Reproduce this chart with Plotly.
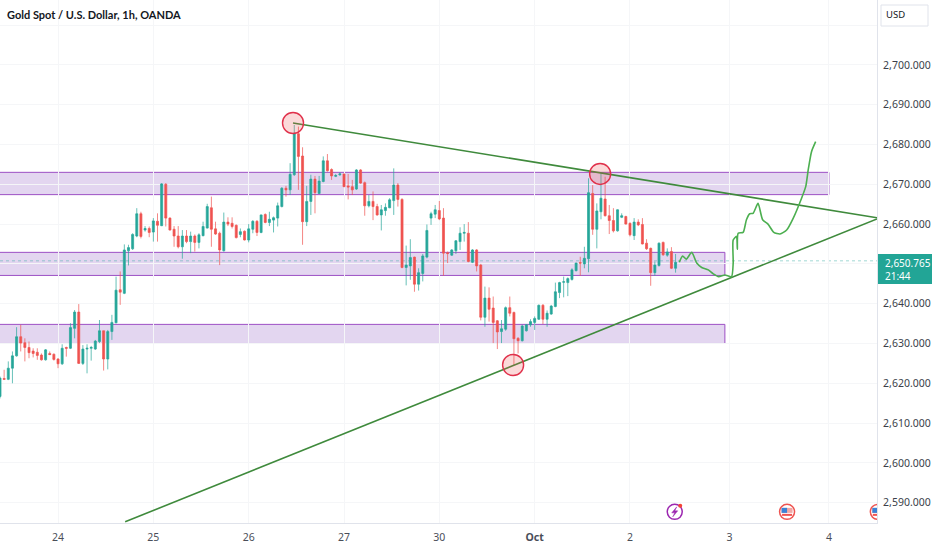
import plotly.graph_objects as go

# OHLC, one value per hourly candle
opens = [2616.7,2621.2,2621.0,2623.8,2626.9,2631.7,2630.2,2629.0,2628.1,2627.8,2627.1,2625.9,2627.5,2627.3,2626.1,2624.9,
         2629.0,2628.8,2633.8,2637.9,2625.0,2628.6,2628.8,2628.6,2630.5,2633.2,2626.1,2633.0,2635.2,2643.5,2642.6,2653.3,
         2653.8,2657.0,2662.6,2658.5,2658.9,2658.0,2660.7,2659.6,2670.0,2661.5,2658.7,2657.0,2654.3,2657.0,2655.6,2657.0,
         2655.4,2657.1,2659.0,2664.1,2658.8,2657.7,2653.3,2660.5,2660.2,2659.7,2657.4,2658.2,2656.0,2658.7,2660.7,2657.9,
         2662.4,2660.4,2661.0,2661.5,2664.4,2669.0,2668.6,2672.4,2682.7,2677.1,2660.6,2665.7,2671.3,2667.7,2670.7,2675.9,
         2673.7,2672.0,2672.4,2672.6,2669.6,2669.4,2668.8,2673.6,2670.4,2664.6,2665.7,2664.4,2662.3,2663.4,2664.1,2665.9,
         2669.8,2666.2,2649.1,2649.5,2651.7,2644.9,2647.6,2651.7,2661.5,2662.5,2663.4,2661.5,2652.8,2652.2,2653.3,2655.6,
         2657.7,2657.7,2650.4,2653.5,2649.7,2636.6,2641.4,2638.9,2635.7,2633.0,2633.6,2639.0,2637.8,2631.3,2630.7,2633.2,
         2634.7,2635.3,2636.1,2639.6,2636.1,2637.4,2639.3,2642.8,2645.4,2645.3,2646.1,2648.3,2650.3,2650.0,2651.3,2667.7,
         2658.7,2663.1,2666.3,2662.1,2660.9,2658.3,2661.7,2661.9,2660.2,2657.1,2660.5,2659.9,2655.2,2653.9,2647.8,2649.6,
         2655.4,2652.2,2653.1,2648.9]
highs = [2621.7,2623.4,2625.5,2628.0,2634.1,2634.7,2631.3,2630.5,2628.8,2628.8,2627.5,2628.6,2628.0,2627.5,2626.3,2629.8,
         2629.2,2635.1,2638.4,2639.9,2629.6,2629.8,2629.4,2630.9,2635.9,2633.2,2633.4,2637.2,2646.8,2648.1,2654.9,2654.8,
         2657.7,2664.0,2663.1,2659.5,2659.4,2661.5,2662.7,2670.3,2670.3,2661.7,2659.5,2659.5,2658.5,2658.5,2658.1,2657.4,
         2657.7,2660.6,2665.1,2666.9,2660.6,2658.1,2662.9,2661.7,2661.7,2659.9,2658.9,2658.4,2660.0,2661.0,2661.0,2662.4,
         2662.7,2663.1,2661.9,2665.4,2669.3,2669.6,2675.3,2684.9,2684.5,2679.3,2669.6,2672.4,2672.1,2672.1,2677.0,2677.6,
         2674.0,2672.6,2673.0,2672.6,2672.6,2671.1,2673.8,2673.8,2670.7,2667.3,2668.2,2665.1,2664.8,2665.2,2666.5,2674.0,
         2670.3,2666.5,2654.6,2656.2,2651.8,2648.9,2652.5,2659.9,2663.1,2664.8,2665.8,2664.0,2653.1,2653.7,2656.0,2659.2,
         2660.0,2660.5,2653.7,2653.7,2650.0,2644.3,2644.1,2641.8,2635.9,2635.9,2639.3,2641.8,2638.0,2631.6,2634.7,2634.9,
         2636.1,2636.8,2639.8,2639.9,2638.3,2639.7,2645.3,2645.5,2646.8,2646.6,2648.9,2650.3,2651.8,2654.3,2671.5,2669.8,
         2665.2,2672.8,2671.9,2664.8,2664.0,2663.7,2662.7,2662.1,2660.4,2661.5,2661.2,2661.5,2656.2,2654.1,2650.6,2655.4,
         2655.6,2653.9,2654.2,2652.5]
lows = [2616.2,2621.0,2620.8,2620.0,2626.7,2628.0,2625.5,2626.3,2626.5,2625.9,2625.7,2625.7,2627.1,2625.7,2623.8,2624.6,
        2626.7,2628.6,2631.3,2624.9,2624.6,2622.5,2625.7,2628.4,2630.1,2623.2,2623.5,2630.9,2635.1,2639.7,2642.4,2649.6,
        2653.5,2656.7,2656.4,2658.1,2656.7,2655.6,2655.6,2659.5,2659.4,2658.4,2654.3,2653.9,2651.3,2655.2,2652.7,2653.1,
        2653.9,2656.9,2658.9,2654.3,2657.3,2649.7,2653.1,2659.5,2658.9,2656.4,2656.7,2655.9,2655.4,2657.7,2657.0,2657.7,
        2660.2,2659.5,2657.9,2659.4,2664.2,2666.9,2667.3,2672.1,2668.6,2654.8,2659.5,2662.3,2662.7,2667.6,2670.5,2673.2,
        2671.1,2671.8,2672.1,2669.3,2666.2,2667.3,2668.6,2670.1,2662.1,2664.2,2661.0,2662.1,2658.4,2662.1,2664.0,2662.3,
        2664.4,2648.9,2644.6,2646.0,2643.0,2643.3,2645.6,2651.4,2659.8,2661.5,2661.0,2647.0,2650.2,2652.0,2652.5,2653.5,
        2655.6,2650.4,2650.2,2648.1,2635.8,2634.2,2635.5,2630.1,2628.6,2630.1,2633.2,2636.8,2624.6,2627.5,2630.5,2633.0,
        2634.2,2633.4,2635.9,2634.9,2634.2,2637.2,2639.1,2641.4,2641.6,2641.9,2645.8,2648.1,2647.0,2648.9,2647.9,2657.3,
        2653.9,2661.2,2661.9,2657.5,2657.9,2658.1,2661.5,2659.9,2656.9,2656.0,2659.5,2654.9,2653.5,2644.5,2647.0,2649.3,
        2652.0,2651.8,2648.7,2647.8]
closes = [2621.3,2621.0,2623.8,2626.9,2631.7,2630.1,2629.0,2627.7,2627.5,2627.0,2625.9,2628.4,2627.2,2626.0,2624.9,2628.8,
          2628.8,2634.0,2637.9,2625.0,2628.6,2628.8,2629.0,2630.6,2633.2,2626.1,2633.0,2635.3,2643.4,2642.9,2653.5,2654.1,
          2657.4,2662.6,2656.9,2658.9,2657.9,2660.8,2659.7,2670.1,2661.5,2658.5,2657.0,2654.3,2657.0,2655.6,2657.0,2655.4,
          2657.3,2659.4,2664.4,2658.7,2657.5,2653.5,2660.5,2660.0,2659.4,2656.6,2658.1,2656.0,2658.8,2660.7,2657.9,2662.3,
          2660.4,2661.2,2661.6,2664.6,2669.0,2668.6,2672.5,2682.8,2677.0,2660.6,2665.7,2671.3,2667.9,2670.8,2675.9,2673.4,
          2672.1,2672.2,2672.6,2669.4,2669.3,2668.6,2673.6,2670.3,2664.6,2665.7,2664.4,2662.3,2663.6,2664.2,2666.1,2669.8,
          2666.2,2649.1,2649.7,2651.6,2644.9,2647.8,2652.0,2658.4,2662.6,2663.6,2661.3,2652.7,2652.6,2653.5,2655.8,2657.7,
          2657.9,2650.6,2653.5,2649.5,2636.6,2641.4,2638.6,2635.3,2632.9,2633.7,2639.0,2637.6,2631.2,2630.7,2634.4,2634.7,
          2635.5,2636.3,2639.6,2636.1,2637.6,2639.4,2643.0,2645.3,2645.5,2646.3,2648.5,2650.2,2650.2,2651.4,2667.9,2658.7,
          2663.3,2666.5,2662.1,2660.9,2658.3,2663.6,2662.1,2660.0,2657.3,2660.5,2659.8,2655.0,2653.8,2647.8,2649.7,2655.2,
          2652.3,2653.0,2648.9,2650.4]
candle_index = list(range(len(opens)))

last_price = 2650.765

# axes, the 2,650 label sits under the last price tag so it stays empty
day_ticks = [14, 37, 60, 83, 106, 129, 152, 176, 200]
day_labels = ['24', '25', '26', '27', '30', '<b>Oct</b>', '2', '3', '4']
price_ticks = [2590, 2600, 2610, 2620, 2630, 2640, 2650, 2660, 2670, 2680, 2690, 2700, 2710]
price_labels = ['2,590.000', '2,600.000', '2,610.000', '2,620.000', '2,630.000', '2,640.000', '',
                '2,660.000', '2,670.000', '2,680.000', '2,690.000', '2,700.000', '']

# drawings on the chart
zone_tops = [2673.0, 2652.9, 2634.8]
zone_bottoms = [2667.4, 2647.1, 2630.0]
zone_ends = [200, 174.9, 174.9]

upper_x = [70.7, 211.6]
upper_y = [2685.4, 2661.6]
lower_x = [30.2, 211.6]
lower_y = [2585.2, 2661.3]

circle_x = [70.7, 144.8, 123.8]
circle_y = [2685.4, 2672.6, 2624.6]

path_x = [163.9, 164.7, 165.6, 166.9, 168.1, 169.3, 170.9, 172.1, 173.4, 174.9, 176.5, 176.9, 176.9, 177.7, 177.9, 178.1,
          179.3, 180.1, 180.9, 181.7, 182.9, 184.0, 185.3, 186.7, 188.2, 189.8, 191.4, 193.4, 194.4, 195.0, 195.8, 196.8]
path_y = [2650.4, 2652.0, 2651.2, 2652.9, 2650.2, 2649.1, 2648.5, 2647.5, 2646.8, 2647.2, 2646.8, 2650.2, 2656.0, 2656.9,
          2653.7, 2657.7, 2657.9, 2661.1, 2662.6, 2662.7, 2665.2, 2661.1, 2660.0, 2657.9, 2657.5, 2658.5, 2661.5, 2666.5,
          2669.4, 2673.6, 2678.2, 2680.7]

bolt_x = [162.8]
flag_x = [189.9, 211.8]
event_price = 2587.7

TEAL = '#26a69a'
RED = '#ef5350'
PURPLE = '#9c4fc4'
GRID = '#f5f6f8'
AXIS = '#e0e3eb'

fig = go.Figure()

fig.add_trace(go.Candlestick(
    x=candle_index, open=opens, high=highs, low=lows, close=closes,
    increasing=dict(line=dict(color=TEAL, width=0.7), fillcolor=TEAL),
    decreasing=dict(line=dict(color=RED, width=0.7), fillcolor=RED),
    whiskerwidth=0, hoverinfo='skip', showlegend=False))

# trend lines and the hand drawn path
fig.add_trace(go.Scatter(x=upper_x, y=upper_y, mode='lines', line=dict(color='#3f8a3c', width=1.6),
                         hoverinfo='skip', showlegend=False))
fig.add_trace(go.Scatter(x=lower_x, y=lower_y, mode='lines', line=dict(color='#3f8a3c', width=1.6),
                         hoverinfo='skip', showlegend=False))
fig.add_trace(go.Scatter(x=path_x, y=path_y, mode='lines',
                         line=dict(color='#4caf50', width=1.6, shape='spline', smoothing=0.6),
                         hoverinfo='skip', showlegend=False))
fig.add_trace(go.Scatter(x=circle_x, y=circle_y, mode='markers',
                         marker=dict(size=21, color='rgba(239,83,80,0.22)', line=dict(color='#e0314b', width=1.4)),
                         hoverinfo='skip', showlegend=False))

# event icons at the bottom
fig.add_trace(go.Scatter(x=bolt_x, y=[event_price], mode='markers',
                         marker=dict(size=15, color='white', line=dict(color='#9c27b0', width=1.5)),
                         hoverinfo='skip', showlegend=False))
fig.add_trace(go.Scatter(x=flag_x, y=[event_price] * len(flag_x), mode='markers',
                         marker=dict(size=15, color='white', line=dict(color='#ef5350', width=1.5)),
                         hoverinfo='skip', showlegend=False))

shapes = []
for top, bottom, end in zip(zone_tops, zone_bottoms, zone_ends):
    shapes.append(dict(type='rect', x0=-2, x1=end, y0=bottom, y1=top, layer='below',
                       fillcolor='rgba(150,105,200,0.27)', line=dict(color=PURPLE, width=1)))
shapes.append(dict(type='line', x0=0, x1=211.6, y0=last_price, y1=last_price, layer='below',
                   line=dict(color='rgba(38,166,154,0.55)', width=0.8, dash='dot')))

# lightning bolt and flags are small pixel sized paths anchored on the event points
for x in bolt_x:
    shapes.append(dict(type='path', xref='x', yref='y', xsizemode='pixel', ysizemode='pixel',
                       xanchor=x, yanchor=event_price,
                       path='M 2 5 L -3 -1 L 0 -1 L -2 -5 L 3 1 L 0 1 Z',
                       fillcolor='#9c27b0', line=dict(color='#9c27b0', width=0.5)))
    shapes.append(dict(type='circle', xref='x', yref='y', xsizemode='pixel', ysizemode='pixel',
                       xanchor=x, yanchor=event_price, x0=3.5, x1=7.5, y0=4, y1=8,
                       fillcolor='#f44336', line=dict(width=0)))
for x in flag_x:
    shapes.append(dict(type='rect', xref='x', yref='y', xsizemode='pixel', ysizemode='pixel',
                       xanchor=x, yanchor=event_price, x0=-5.5, x1=5.5, y0=-1, y1=4,
                       fillcolor='#f1a7a5', line=dict(width=0)))
    shapes.append(dict(type='rect', xref='x', yref='y', xsizemode='pixel', ysizemode='pixel',
                       xanchor=x, yanchor=event_price, x0=-5.5, x1=0, y0=-1, y1=4,
                       fillcolor='#3b82d6', line=dict(width=0)))
    shapes.append(dict(type='rect', xref='x', yref='y', xsizemode='pixel', ysizemode='pixel',
                       xanchor=x, yanchor=event_price, x0=-5, x1=5, y0=-4, y1=-2,
                       fillcolor='#ef5350', line=dict(width=0)))

# USD box on the price scale
shapes.append(dict(type='rect', xref='paper', yref='paper', x0=881 / 877, x1=928 / 877, y0=1 - 26 / 523, y1=1 - 5 / 523,
                   fillcolor='white', line=dict(color=AXIS, width=1)))
# last price tag
shapes.append(dict(type='rect', xref='paper', yref='paper', x0=878 / 877, x1=932 / 877, y0=1 - 284 / 523, y1=1 - 254 / 523,
                   fillcolor='#22a596', line=dict(width=0)))

fig.update_layout(
    width=932, height=550,
    margin=dict(l=0, r=55, t=0, b=27),
    paper_bgcolor='white', plot_bgcolor='white',
    font=dict(family='Noto Sans', size=11, color='#131722'),
    showlegend=False,
    shapes=shapes,
    xaxis=dict(range=[0, 211.6], tickmode='array', tickvals=day_ticks, ticktext=day_labels,
               rangeslider=dict(visible=False), showgrid=True, gridcolor=GRID, gridwidth=1,
               showline=True, linecolor=AXIS, linewidth=1, ticks='', zeroline=False, ticklabelstandoff=4,
               tickfont=dict(size=10.5, color='#4a4e59')),
    yaxis=dict(range=[2584.9, 2716.3], side='right', tickmode='array', tickvals=price_ticks, ticktext=price_labels,
               showgrid=True, gridcolor=GRID, gridwidth=1, showline=True, linecolor=AXIS, linewidth=1,
               ticks='', zeroline=False, ticklabelstandoff=3, tickfont=dict(size=10.5, color='#3b3f4a')),
    annotations=[
        dict(xref='paper', yref='paper', x=5 / 877, y=1 - 15 / 523, xanchor='left', yanchor='middle',
             text='<b>Gold Spot / U.S. Dollar, 1h, OANDA</b>', showarrow=False,
             font=dict(family='Lato', size=11, color='#131722')),
        dict(xref='paper', yref='paper', x=895 / 877, y=1 - 15 / 523, xanchor='center', yanchor='middle',
             text='USD', showarrow=False, font=dict(size=9.5, color='#131722')),
        dict(xref='paper', yref='paper', x=883 / 877, y=1 - 269 / 523, xanchor='left', yanchor='middle', align='left',
             text='2,650.765<br>21:44', showarrow=False, font=dict(size=10, color='white')),
    ],
)

fig.write_html("out.html", config={'displayModeBar': False}, post_script="document.body.style.margin='0';")
